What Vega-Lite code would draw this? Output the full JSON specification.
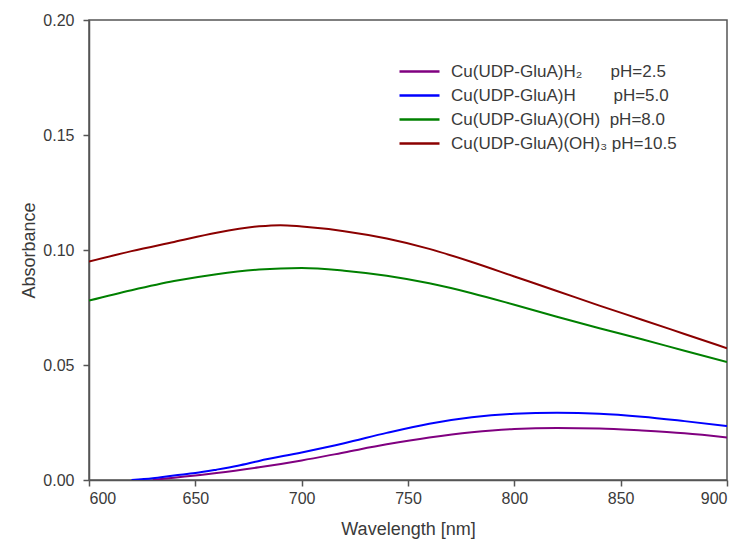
{
  "$schema": "https://vega.github.io/schema/vega-lite/v6.json",
  "width": 638,
  "height": 460,
  "autosize": "none",
  "padding": {"left": 89, "top": 20, "right": 15, "bottom": 63},
  "background": "white",
  "config": {
    "view": {"stroke": "#555555", "strokeWidth": 1.5},
    "font": "Liberation Sans",
    "axis": {
      "grid": false,
      "domainColor": "#555555",
      "domainWidth": 1.5,
      "tickColor": "#555555",
      "tickWidth": 1.5,
      "tickSize": 6,
      "labelFont": "Liberation Sans",
      "labelFontSize": 16,
      "labelColor": "#3a3a3a",
      "titleFont": "Liberation Sans",
      "titleFontSize": 18,
      "titleFontWeight": "normal",
      "titleColor": "#3a3a3a"
    }
  },
  "data": {
    "values": [
      {"wl": 630, "abs": 0.0, "s": "p25"},
      {"wl": 640, "abs": 0.001, "s": "p25"},
      {"wl": 650, "abs": 0.002, "s": "p25"},
      {"wl": 660, "abs": 0.003, "s": "p25"},
      {"wl": 680, "abs": 0.0055, "s": "p25"},
      {"wl": 700, "abs": 0.0085, "s": "p25"},
      {"wl": 720, "abs": 0.012, "s": "p25"},
      {"wl": 740, "abs": 0.0155, "s": "p25"},
      {"wl": 760, "abs": 0.0185, "s": "p25"},
      {"wl": 780, "abs": 0.0208, "s": "p25"},
      {"wl": 800, "abs": 0.0222, "s": "p25"},
      {"wl": 820, "abs": 0.0226, "s": "p25"},
      {"wl": 840, "abs": 0.0224, "s": "p25"},
      {"wl": 860, "abs": 0.0215, "s": "p25"},
      {"wl": 880, "abs": 0.0203, "s": "p25"},
      {"wl": 900, "abs": 0.0185, "s": "p25"},

      {"wl": 620, "abs": 0.0, "s": "p50"},
      {"wl": 630, "abs": 0.0008, "s": "p50"},
      {"wl": 640, "abs": 0.002, "s": "p50"},
      {"wl": 650, "abs": 0.003, "s": "p50"},
      {"wl": 660, "abs": 0.0045, "s": "p50"},
      {"wl": 670, "abs": 0.0062, "s": "p50"},
      {"wl": 680, "abs": 0.0083, "s": "p50"},
      {"wl": 700, "abs": 0.012, "s": "p50"},
      {"wl": 720, "abs": 0.016, "s": "p50"},
      {"wl": 740, "abs": 0.0205, "s": "p50"},
      {"wl": 760, "abs": 0.0245, "s": "p50"},
      {"wl": 780, "abs": 0.0273, "s": "p50"},
      {"wl": 800, "abs": 0.0288, "s": "p50"},
      {"wl": 820, "abs": 0.0292, "s": "p50"},
      {"wl": 840, "abs": 0.0288, "s": "p50"},
      {"wl": 860, "abs": 0.0275, "s": "p50"},
      {"wl": 880, "abs": 0.0256, "s": "p50"},
      {"wl": 900, "abs": 0.0235, "s": "p50"},

      {"wl": 600, "abs": 0.078, "s": "p80"},
      {"wl": 620, "abs": 0.0825, "s": "p80"},
      {"wl": 640, "abs": 0.0865, "s": "p80"},
      {"wl": 660, "abs": 0.0895, "s": "p80"},
      {"wl": 680, "abs": 0.0915, "s": "p80"},
      {"wl": 700, "abs": 0.0922, "s": "p80"},
      {"wl": 720, "abs": 0.091, "s": "p80"},
      {"wl": 740, "abs": 0.0888, "s": "p80"},
      {"wl": 760, "abs": 0.0855, "s": "p80"},
      {"wl": 780, "abs": 0.0812, "s": "p80"},
      {"wl": 800, "abs": 0.0762, "s": "p80"},
      {"wl": 820, "abs": 0.071, "s": "p80"},
      {"wl": 840, "abs": 0.066, "s": "p80"},
      {"wl": 860, "abs": 0.0612, "s": "p80"},
      {"wl": 880, "abs": 0.0562, "s": "p80"},
      {"wl": 900, "abs": 0.0513, "s": "p80"},

      {"wl": 600, "abs": 0.095, "s": "p105"},
      {"wl": 620, "abs": 0.0995, "s": "p105"},
      {"wl": 640, "abs": 0.1035, "s": "p105"},
      {"wl": 660, "abs": 0.1075, "s": "p105"},
      {"wl": 680, "abs": 0.1103, "s": "p105"},
      {"wl": 690, "abs": 0.1108, "s": "p105"},
      {"wl": 700, "abs": 0.1102, "s": "p105"},
      {"wl": 720, "abs": 0.1082, "s": "p105"},
      {"wl": 740, "abs": 0.105, "s": "p105"},
      {"wl": 760, "abs": 0.1005, "s": "p105"},
      {"wl": 780, "abs": 0.0948, "s": "p105"},
      {"wl": 800, "abs": 0.0885, "s": "p105"},
      {"wl": 820, "abs": 0.0822, "s": "p105"},
      {"wl": 840, "abs": 0.0758, "s": "p105"},
      {"wl": 860, "abs": 0.0697, "s": "p105"},
      {"wl": 880, "abs": 0.0635, "s": "p105"},
      {"wl": 900, "abs": 0.0573, "s": "p105"}
    ]
  },
  "mark": {"type": "line", "strokeWidth": 2, "interpolate": "monotone", "clip": true},
  "encoding": {
    "x": {
      "field": "wl", "type": "quantitative",
      "scale": {"domain": [600, 900], "nice": false, "zero": false},
      "axis": {"values": [600, 650, 700, 750, 800, 850, 900], "title": "Wavelength [nm]", "labelPadding": 4, "titlePadding": 14}
    },
    "y": {
      "field": "abs", "type": "quantitative",
      "scale": {"domain": [0, 0.2], "nice": false},
      "axis": {"values": [0, 0.05, 0.1, 0.15, 0.2], "format": ".2f", "title": "Absorbance", "labelPadding": 9, "titlePadding": 4}
    },
    "color": {
      "field": "s", "type": "nominal",
      "scale": {
        "domain": ["p25", "p50", "p80", "p105"],
        "range": ["#800080", "#0000ff", "#008000", "#8b0000"]
      },
      "legend": {
        "title": null,
        "orient": "none",
        "legendX": 309,
        "legendY": 43,
        "symbolType": "stroke",
        "symbolSize": 1600,
        "symbolStrokeWidth": 2.5,
        "clipHeight": 17,
        "rowPadding": 6,
        "labelFont": "Liberation Sans",
        "labelFontSize": 17,
        "labelColor": "#3a3a3a",
        "labelLimit": 400,
        "labelOffset": 10,
        "labelExpr": "datum.value == 'p25' ? 'Cu(UDP-GluA)H₂\u00a0\u00a0\u00a0\u00a0\u00a0\u00a0pH=2.5' : datum.value == 'p50' ? 'Cu(UDP-GluA)H\u00a0\u00a0\u00a0\u00a0\u00a0\u00a0\u00a0\u00a0pH=5.0' : datum.value == 'p80' ? 'Cu(UDP-GluA)(OH)\u00a0\u00a0pH=8.0' : 'Cu(UDP-GluA)(OH)₃\u00a0pH=10.5'"
      }
    }
  }
}
